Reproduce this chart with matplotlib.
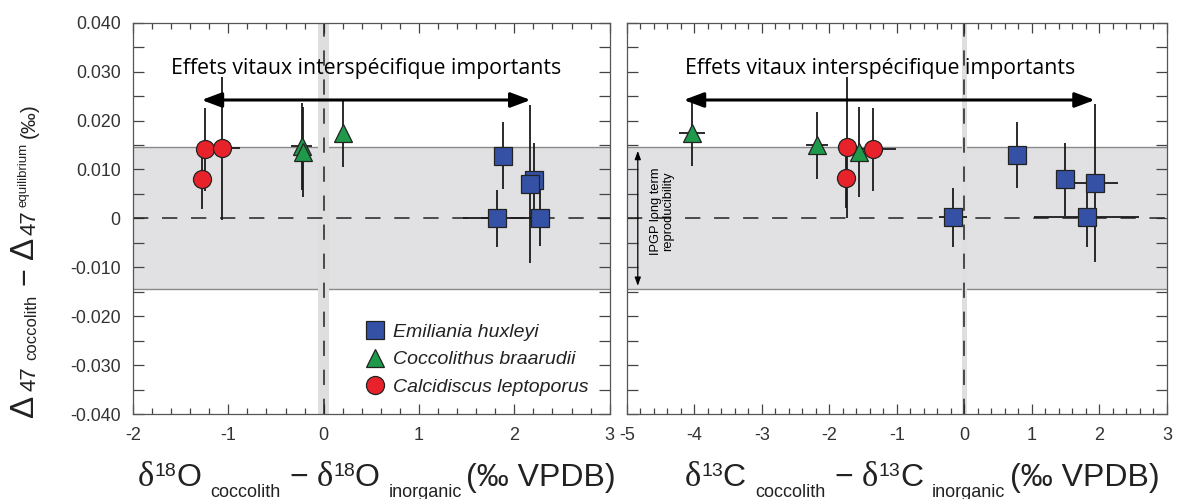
import numpy as np
import matplotlib
matplotlib.use('Agg')
import matplotlib.pyplot as plt
from matplotlib.ticker import MultipleLocator

plt.rcParams['font.family'] = ['Liberation Sans', 'DejaVu Sans']
plt.rcParams['axes.unicode_minus'] = False

# --- data: delta18O panel ---
o_ehux_x = [1.88, 2.21, 2.16, 1.82, 2.27]
o_ehux_y = [0.0128, 0.0079, 0.0070, 0.0000, 0.0001]
o_ehux_xerr = [0, 0, 0, 0.36, 0.10]
o_ehux_yerr = [0.0068, 0.0075, 0.0162, 0.0058, 0.0058]

o_cbra_x = [-0.23, -0.215, 0.20]
o_cbra_y = [0.0147, 0.0136, 0.0174]
o_cbra_xerr = [0.11, 0, 0]
o_cbra_yerr = [0.0088, 0.0092, 0.0068]

o_clep_x = [-1.24, -1.07, -1.28]
o_clep_y = [0.0141, 0.0143, 0.0080]
o_clep_xerr = [0, 0.19, 0]
o_clep_yerr = [0.0085, 0.0146, 0.0060]

# --- data: delta13C panel ---
c_ehux_x = [0.78, 1.49, 1.93, -0.17, 1.81]
c_ehux_y = [0.0130, 0.0080, 0.0072, 0.0002, 0.0002]
c_ehux_xerr = [0, 0, 0.35, 0.21, 0.78]
c_ehux_yerr = [0.0068, 0.0075, 0.0162, 0.0060, 0.0060]

c_cbra_x = [-2.19, -1.56, -4.04]
c_cbra_y = [0.0149, 0.0136, 0.0174]
c_cbra_xerr = [0.165, 0, 0.19]
c_cbra_yerr = [0.0068, 0.0092, 0.0066]

c_clep_x = [-1.36, -1.74, -1.75]
c_clep_y = [0.0141, 0.0145, 0.0082]
c_clep_xerr = [0.35, 0, 0]
c_clep_yerr = [0.0085, 0.0145, 0.0060]

reproducibility = 0.0145
arrow_y = 0.0242
o_arrow = (-1.28, 2.17)
c_arrow = (-4.16, 1.93)
vital_text = "Effets vitaux interspécifique importants"

species = ["Emiliania huxleyi", "Coccolithus braarudii", "Calcidiscus leptoporus"]
colors = ["#3451a6", "#1f9a4a", "#e8222a"]
markers = ["s", "^", "o"]

SANS = ["Liberation Sans", "DejaVu Sans"]
SERIF = ["Liberation Serif", "DejaVu Serif"]
TXT = "#222222"

fig = plt.figure(figsize=(11.77, 4.99), dpi=100)
ax1 = fig.add_axes([0.113, 0.1703, 0.405, 0.7842])
ax2 = fig.add_axes([0.5327, 0.1703, 0.4588, 0.7842])


def style_axis(ax, xlim, stripe):
    ax.set_xlim(*xlim)
    ax.set_ylim(-0.04, 0.04)
    ax.axhspan(-reproducibility, reproducibility, color="#e1e1e3", zorder=0, lw=0)
    for yy in (-reproducibility, reproducibility):
        ax.axhline(yy, color="#8a8a8a", lw=1.0, zorder=1)
    ax.axvspan(-stripe, stripe, color="#dedede", zorder=1.5, lw=0)
    ax.axhline(0, color="#222222", lw=1.1, dashes=(10, 9), zorder=2)
    ax.axvline(0, color="#222222", lw=1.1, dashes=(10, 9), zorder=2)
    ax.xaxis.set_major_locator(MultipleLocator(1))
    ax.xaxis.set_minor_locator(MultipleLocator(0.2))
    ax.yaxis.set_major_locator(MultipleLocator(0.01))
    ax.yaxis.set_minor_locator(MultipleLocator(0.005))
    ax.tick_params(which="both", direction="in", top=True, right=True,
                   color="#444444", width=0.9)
    ax.tick_params(axis="x", which="major", length=7, labelsize=13, pad=9,
                   labelcolor="#333333")
    ax.tick_params(axis="x", which="minor", length=4)
    ax.tick_params(axis="y", which="both", length=8, labelsize=12.8, pad=9,
                   labelcolor="#333333")
    for s in ax.spines.values():
        s.set_color("#555555")
        s.set_linewidth(0.9)


def plot_series(ax, x, y, xerr, yerr, k):
    ax.errorbar(x, y, xerr=xerr, yerr=yerr, fmt="none", ecolor="#1a1a1a",
                elinewidth=1.3, capsize=0, zorder=3)
    ax.plot(x, y, linestyle="none", marker=markers[k], markersize=13,
            markerfacecolor=colors[k], markeredgecolor="#222222",
            markeredgewidth=0.9, zorder=4, label=species[k])


def rich_label(pieces, start, base, rotated=False, center=None):
    # pieces: (text, size, shift_px, family, gap_px); laid out one after another
    renderer = fig.canvas.get_renderer()
    texts, sizes = [], []
    for txt, size, shift, fam, gap in pieces:
        t = fig.text(0, 0, txt, fontsize=size, family=fam, color=TXT,
                     ha="left", va="baseline", rotation=90 if rotated else 0,
                     rotation_mode="anchor", transform=None)
        bb = t.get_window_extent(renderer)
        texts.append(t)
        sizes.append(bb.height if rotated else bb.width)
    total = sum(s + p[4] for s, p in zip(sizes, pieces))
    pos = start if center is None else center - total / 2
    for t, s, p in zip(texts, sizes, pieces):
        pos += p[4]
        if rotated:
            t.set_position((base - p[2], pos))
        else:
            t.set_position((pos, base + p[2]))
        pos += s


style_axis(ax1, (-2, 3), 0.055)
style_axis(ax2, (-5, 3), 0.03)

plot_series(ax1, o_ehux_x, o_ehux_y, o_ehux_xerr, o_ehux_yerr, 0)
plot_series(ax1, o_cbra_x, o_cbra_y, o_cbra_xerr, o_cbra_yerr, 1)
plot_series(ax1, o_clep_x, o_clep_y, o_clep_xerr, o_clep_yerr, 2)
plot_series(ax2, c_ehux_x, c_ehux_y, c_ehux_xerr, c_ehux_yerr, 0)
plot_series(ax2, c_cbra_x, c_cbra_y, c_cbra_xerr, c_cbra_yerr, 1)
plot_series(ax2, c_clep_x, c_clep_y, c_clep_xerr, c_clep_yerr, 2)

ax1.set_yticks(np.arange(-0.04, 0.041, 0.01))
ax1.set_yticklabels(["-0.040", "-0.030", "-0.020", "-0.010", "0",
                     "0.010", "0.020", "0.030", "0.040"])
ax2.tick_params(axis="y", labelleft=False)

for ax, (x0, x1), dx in ((ax1, o_arrow, 0.0), (ax2, c_arrow, -0.13)):
    ax.annotate("", xy=(x0, arrow_y), xytext=(x1, arrow_y),
                arrowprops=dict(arrowstyle="<|-|>,head_length=1.2,head_width=0.45",
                                color="black", lw=2.2, shrinkA=0, shrinkB=0),
                zorder=5)
    ax.text((x0 + x1) / 2 + dx, 0.0307, vital_text, ha="center", va="center",
            fontsize=15.3, family=["Open Sans", "DejaVu Sans"], zorder=5)

ax2.annotate("", xy=(-4.84, 0.0138), xytext=(-4.84, -0.0138),
             arrowprops=dict(arrowstyle="<|-|>,head_length=0.5,head_width=0.18",
                             color="black", lw=0.9, shrinkA=0, shrinkB=0), zorder=5)
ax2.text(-4.48, 0.0015, "IPGP long term\nreproducibility", rotation=90,
         ha="center", va="center", fontsize=9.3, linespacing=1.0, zorder=5)

leg = ax1.legend(loc="lower left", bbox_to_anchor=(0.47, 0.027), frameon=False,
                 fontsize=14, handletextpad=0.45, handlelength=1.0,
                 labelspacing=0.5, borderaxespad=0)
for t in leg.get_texts():
    t.set_fontstyle("italic")
    t.set_color(TXT)


def delta_pieces(iso, elem):
    return [("δ", 25, 0, SERIF, 0),
            (iso, 14, 10, SANS, 0),
            (elem, 23, 0, SANS, 0),
            ("coccolith", 13, -11, SANS, 9),
            ("−", 23, 0, SANS, 9),
            ("δ", 25, 0, SERIF, 9),
            (iso, 14, 10, SANS, 0),
            (elem, 23, 0, SANS, 0),
            ("inorganic", 13, -11, SANS, 9),
            ("(‰ VPDB)", 23, 0, SANS, 4)]


rich_label(delta_pieces("18", "O"), 0, 13, center=377)
rich_label(delta_pieces("13", "C"), 0, 13, center=922)

ylabel_pieces = [("Δ", 24, 0, SANS, 0),
                 ("47", 16, -3, SANS, 4),
                 ("coccolith", 12, -3, SANS, 6),
                 ("−", 22, 0, SANS, 10),
                 ("Δ", 24, 0, SANS, 8),
                 ("47", 16, -3, SANS, 2),
                 ("equilibrium", 9.5, 6, SANS, 3),
                 ("(‰)", 15, -2, SANS, 5)]
rich_label(ylabel_pieces, 82, 33, rotated=True)

fig.savefig("out.png", dpi=100)
plt.close(fig)
